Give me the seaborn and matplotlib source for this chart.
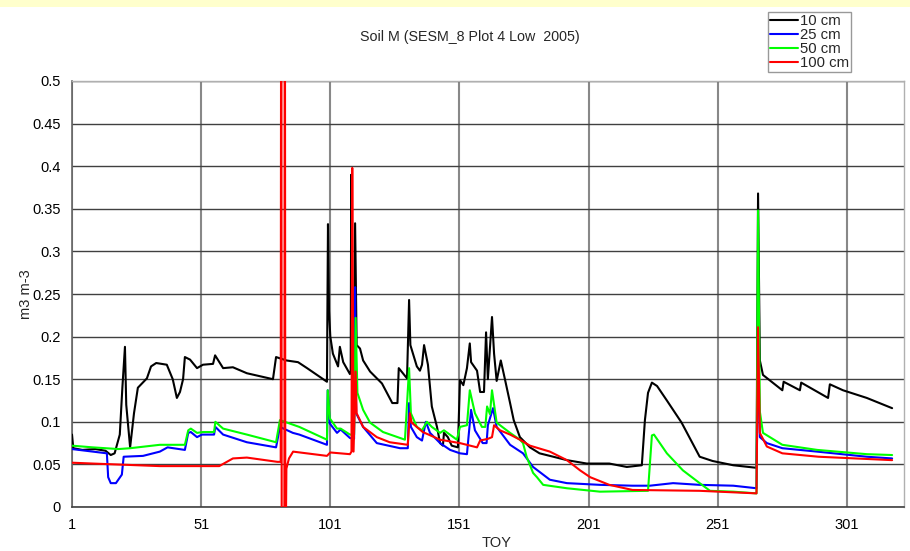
import matplotlib
matplotlib.use("Agg")
import matplotlib.pyplot as plt
import pandas as pd
import seaborn as sns
from matplotlib.patches import Rectangle

title = "Soil M (SESM_8 Plot 4 Low  2005)"
depths = ["10 cm", "25 cm", "50 cm", "100 cm"]
colors = ["#000000", "#0000FF", "#00FF00", "#FF0000"]
x_ticks = [1, 51, 101, 151, 201, 251, 301]
y_ticks = [0, 0.05, 0.1, 0.15, 0.2, 0.25, 0.3, 0.35, 0.4, 0.45, 0.5]
y_tick_labels = ["0", "0.05", "0.1", "0.15", "0.2", "0.25", "0.3", "0.35", "0.4", "0.45", "0.5"]

toy_10 = [1, 1.5, 5, 10, 14, 16, 17.5, 19.5, 20.5, 21.5, 22, 23.5, 25, 26.5, 30, 31.6, 33.6, 37.7,
          40, 41.6, 42.8, 44, 44.7, 46.7, 49.4, 51.7, 55.6, 56.4, 59.5, 63.3, 68.7, 78.8, 80, 84,
          88.5, 92, 99.7, 100.1, 100.5, 101, 102, 104, 104.7, 106, 108.6, 108.9, 109.1, 109.6,
          110.2, 110.6, 111.2, 112.5, 113.7, 116.4, 121, 125, 127, 127.5, 130.7, 131.5, 132,
          134.5, 135.7, 136.5, 137.3, 138.8, 140.3, 142.3, 143.5, 144.6, 145, 146.5, 148, 150.4,
          151.2, 152.5, 153.9, 155, 155.5, 157.8, 159, 160.5, 161.3, 162, 163.6, 164.4, 165.4,
          167, 168.6, 170.6, 172, 174.4, 178.3, 182, 186, 192.6, 200.3, 209, 215.8, 221.6, 222.8,
          224, 225.5, 227.5, 231.3, 237, 244, 249, 257, 266, 266.6, 267.3, 268.5, 276, 276.5,
          282.8, 283.3, 293.7, 294.4, 299.5, 308.7, 318.5]
sm_10 = [0.085, 0.069, 0.067, 0.068, 0.066, 0.061, 0.063, 0.085, 0.14, 0.188, 0.12, 0.07, 0.11, 0.14,
         0.151, 0.165, 0.169, 0.167, 0.15, 0.128, 0.135, 0.15, 0.176, 0.173, 0.163, 0.167, 0.168,
         0.178, 0.163, 0.164, 0.157, 0.15, 0.176, 0.172, 0.17, 0.163, 0.147, 0.332, 0.23, 0.2,
         0.18, 0.165, 0.188, 0.17, 0.156, 0.16, 0.39, 0.18, 0.2, 0.333, 0.19, 0.186, 0.172, 0.159,
         0.145, 0.122, 0.122, 0.163, 0.151, 0.243, 0.19, 0.165, 0.16, 0.167, 0.19, 0.167, 0.118,
         0.094, 0.075, 0.072, 0.087, 0.082, 0.072, 0.07, 0.149, 0.143, 0.163, 0.192, 0.17, 0.16,
         0.135, 0.135, 0.205, 0.15, 0.223, 0.18, 0.148, 0.172, 0.15, 0.122, 0.102, 0.082, 0.07,
         0.063, 0.06, 0.055, 0.051, 0.051, 0.047, 0.049, 0.102, 0.134, 0.146, 0.142, 0.125, 0.099,
         0.059, 0.054, 0.049, 0.046, 0.368, 0.172, 0.155, 0.137, 0.147, 0.137, 0.146, 0.128, 0.144,
         0.137, 0.128, 0.116]

toy_25 = [1, 14.5, 15, 16, 18, 20.3, 21, 28.5, 35, 38, 44.7, 46, 47, 49.4, 51.3, 56, 56.5, 59.5,
          68.7, 80, 81.5, 86.5, 89, 99.7, 100, 100.8, 103.6, 105, 108.6, 110.2, 110.6, 111, 113.7,
          119, 128, 131, 131.5, 132.2, 134.5, 136.5, 138, 139.6, 143.5, 147.4, 151.2, 153.9, 154.5,
          155.5, 157, 160, 161.5, 162, 164, 165.4, 170.6, 175.6, 179.5, 186, 192.6, 205.4, 218,
          224.7, 233.7, 244, 257, 266, 266.6, 267.3, 270, 276, 289.5, 308.7, 318.5]
sm_25 = [0.068, 0.063, 0.035, 0.028, 0.028, 0.038, 0.059, 0.06, 0.065, 0.07, 0.067, 0.087, 0.088,
         0.082, 0.085, 0.085, 0.094, 0.085, 0.076, 0.07, 0.094, 0.087, 0.085, 0.073, 0.137, 0.098,
         0.087, 0.091, 0.081, 0.08, 0.258, 0.11, 0.094, 0.075, 0.069, 0.069, 0.122, 0.094, 0.082,
         0.078, 0.1, 0.087, 0.075, 0.067, 0.063, 0.062, 0.082, 0.114, 0.09, 0.075, 0.075, 0.096,
         0.116, 0.094, 0.073, 0.063, 0.047, 0.032, 0.028, 0.026, 0.025, 0.025, 0.028, 0.026, 0.025,
         0.022, 0.2, 0.082, 0.075, 0.069, 0.065, 0.059, 0.057]

toy_50 = [1, 9, 19, 23.5, 35, 44.7, 46, 47, 49.4, 51.7, 56, 56.5, 59.5, 68.7, 80, 81.5, 89, 99.7,
          100, 100.8, 103.6, 105, 108.6, 110.2, 110.8, 111.5, 113.7, 116.4, 121.4, 129.9, 131.5,
          132.2, 134.5, 136.5, 138.4, 140.3, 143.5, 145, 150, 151.2, 153.9, 155, 157, 159.7, 161,
          161.7, 162.8, 163.6, 165.4, 170.6, 174.4, 175.6, 177, 179.5, 181, 183.4, 192.6, 205.4,
          224, 225.5, 226.3, 231.3, 237.5, 244, 248, 257, 266, 266.6, 267.3, 268.5, 276, 289.5,
          308.7, 318.5]
sm_50 = [0.072, 0.07, 0.068, 0.069, 0.073, 0.073, 0.09, 0.092, 0.087, 0.088, 0.088, 0.1, 0.092,
         0.085, 0.076, 0.102, 0.094, 0.079, 0.137, 0.104, 0.092, 0.092, 0.085, 0.085, 0.222, 0.134,
         0.114, 0.099, 0.088, 0.079, 0.163, 0.11, 0.094, 0.09, 0.1, 0.094, 0.087, 0.09, 0.079, 0.094,
         0.096, 0.137, 0.11, 0.094, 0.094, 0.118, 0.109, 0.137, 0.099, 0.087, 0.079, 0.075, 0.059,
         0.04, 0.035, 0.026, 0.022, 0.018, 0.019, 0.084, 0.085, 0.063, 0.043, 0.028, 0.019, 0.018,
         0.016, 0.348, 0.112, 0.087, 0.073, 0.067, 0.062, 0.061]

toy_100 = [1, 9, 35, 58, 63.3, 68.7, 80.5, 81.8, 82, 82.2, 83.2, 83.4, 83.6, 84, 85, 86.6, 99.7, 101,
           108.6, 109.2, 109.5, 110, 110.8, 111.2, 113.7, 119, 124, 131, 131.8, 132.5, 136.8, 143.5,
           151.2, 157.8, 159, 162, 163.6, 164.4, 166.7, 170.6, 174.4, 178.3, 186, 192.6, 197.7,
           201.6, 209, 218, 244, 266, 266.6, 267.3, 270, 276, 290, 318.5]
sm_100 = [0.052, 0.051, 0.048, 0.048, 0.057, 0.058, 0.053, 0.053, 0.8, -0.1, -0.1, 0.8, -0.1, 0.045,
          0.057, 0.065, 0.06, 0.064, 0.062, 0.065, 0.398, 0.065, 0.159, 0.11, 0.094, 0.082, 0.076,
          0.073, 0.11, 0.099, 0.088, 0.079, 0.075, 0.07, 0.078, 0.08, 0.082, 0.096, 0.09, 0.085,
          0.079, 0.072, 0.065, 0.055, 0.043, 0.035, 0.026, 0.02, 0.019, 0.016, 0.211, 0.087, 0.071,
          0.063, 0.059, 0.055]

frames = []
for name, xs, ys in [("10 cm", toy_10, sm_10), ("25 cm", toy_25, sm_25),
                     ("50 cm", toy_50, sm_50), ("100 cm", toy_100, sm_100)]:
    frames.append(pd.DataFrame({"TOY": xs, "SM": ys, "Depth": name}))
df = pd.concat(frames, ignore_index=True)

sns.set_style("white")
plt.rcParams["font.family"] = ["Liberation Sans", "DejaVu Sans"]

fig = plt.figure(figsize=(9.1, 5.51), dpi=100)
fig.patches.append(Rectangle((0, 1 - 7 / 551), 1, 7 / 551, transform=fig.transFigure,
                             facecolor="#FFFFCC", edgecolor="none", zorder=0))
ax = fig.add_axes([72 / 910, 44 / 551, 832 / 910, 426 / 551])

sns.lineplot(data=df, x="TOY", y="SM", hue="Depth", hue_order=depths, palette=colors,
             estimator=None, linewidth=1.5, ax=ax, zorder=3)

ax.set_xlim(1, 323.1)
ax.set_ylim(0, 0.5)
ax.set_xticks(x_ticks)
ax.set_xticklabels([str(t) for t in x_ticks])
ax.set_yticks(y_ticks)
ax.set_yticklabels(y_tick_labels)
ax.tick_params(axis="both", which="major", direction="out", length=5, width=1,
               color="#505050", labelsize=10.5, labelcolor="black", pad=3)
ax.tick_params(axis="x", pad=3)
ax.yaxis.grid(True, color="#404040", linewidth=1)
ax.xaxis.grid(True, color="#888888", linewidth=1.5)
ax.set_axisbelow(True)
for side in ["top", "right"]:
    ax.spines[side].set_color("#b0b0b0")
    ax.spines[side].set_linewidth(1)
ax.spines["left"].set_color("#666666")
ax.spines["left"].set_linewidth(1.2)
ax.spines["bottom"].set_color("#404040")
ax.spines["bottom"].set_linewidth(1.2)

ax.set_xlabel("TOY", fontsize=10.5)
ax.xaxis.set_label_coords((497 - 72) / 832, -(536 - 507) / 426)
ax.set_ylabel("m3 m-3", fontsize=10.5)
ax.yaxis.set_label_coords(-0.047, 0.5)
fig.text(470 / 910, 1 - 37 / 551, title, ha="center", va="center", fontsize=10.3)

handles, labels = ax.get_legend_handles_labels()
if ax.get_legend() is not None:
    ax.get_legend().remove()
leg = fig.legend(handles, labels, loc="upper right", bbox_to_anchor=(851 / 910, 1 - 12 / 551),
                 frameon=True, fancybox=False, fontsize=10.7, handlelength=1.9,
                 handletextpad=0.1, labelspacing=0.0, borderpad=0.15, borderaxespad=0)
leg.get_frame().set_edgecolor("#808080")
leg.get_frame().set_linewidth(1)
leg.get_frame().set_facecolor("white")

fig.savefig("out.png", dpi=100, facecolor="white")
